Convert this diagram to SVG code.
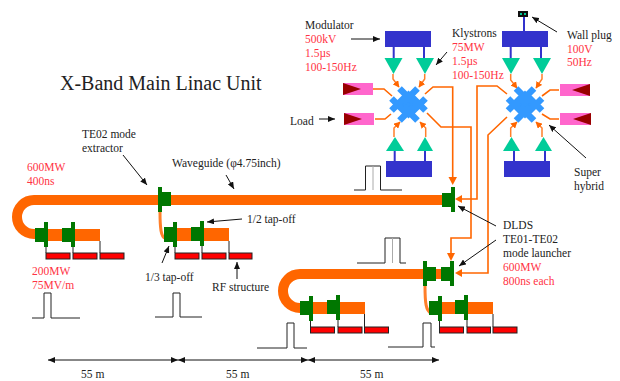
<svg xmlns="http://www.w3.org/2000/svg" width="620" height="381" viewBox="0 0 620 381">
<style>
text{font-family:"Liberation Serif","Times New Roman",serif;font-size:11.5px;fill:#222}
.r{fill:#ff3344}
.blue{fill:#3333cc}
.bl{stroke:#3333cc;stroke-width:2;fill:none}
.kly{fill:#00cc99}
.hyb{stroke:#3399ff;stroke-width:6.500;fill:none}
.hc{fill:#3399ff}
.o{stroke:#ff6600;fill:none;stroke-width:1.600}
.ol{stroke:#ff7f2a;fill:none;stroke-width:1.500;marker-end:url(#oa)}
.wg{stroke:#ff6600;fill:none;stroke-width:10}
.of{fill:#ff6600}
.g{fill:#007700}
.pk{fill:#ff66cc}
.dr{fill:#990000}
.rf{fill:#ff0000;stroke:#222;stroke-width:1}
.k{stroke:#222;stroke-width:1;fill:none}
.gr{stroke:#aaa;stroke-width:1;fill:none}
.a{stroke:#111;stroke-width:1;fill:none;marker-end:url(#ah)}
.d{stroke:#111;stroke-width:1;fill:none;marker-end:url(#ah);marker-start:url(#as)}
</style>
<defs>
<marker id="ah" markerWidth="8" markerHeight="6" refX="7" refY="3" orient="auto" markerUnits="userSpaceOnUse"><path d="M0,0L7,3L0,6z" fill="#111"/></marker>
<marker id="as" markerWidth="8" markerHeight="6" refX="0" refY="3" orient="auto" markerUnits="userSpaceOnUse"><path d="M7,0L0,3L7,6z" fill="#111"/></marker>
<marker id="oa" markerWidth="7" markerHeight="7" refX="6" refY="3.500" orient="auto" markerUnits="userSpaceOnUse"><path d="M0,0L6.500,3.500L0,7z" fill="#ff6600"/></marker>
</defs>
<text x="60" y="90" style="font-size:20px">X-Band Main Linac Unit</text>

<g id="waveguides">
<path class="wg" d="M160,200H34A17,17 0 0 0 34,234H40"/>
<rect class="of" x="40" y="229" width="60" height="12"/>
<rect class="of" x="160" y="195" width="282" height="10"/>
<path d="M160,212C160,228 161,237 165,238" stroke="#ff7f2a" stroke-width="3" fill="none"/>
<rect class="of" x="170" y="228" width="59" height="13"/>
<path class="wg" d="M423,274H300A17,17 0 0 0 300,308H305"/>
<rect class="of" x="305" y="302" width="60" height="12"/>
<rect class="of" x="430" y="269" width="15" height="10"/>
<path d="M425,286C425,303 426,311 431,313" stroke="#ff7f2a" stroke-width="3" fill="none"/>
<rect class="of" x="435" y="302" width="58" height="12"/>
</g>

<g id="connectors">
<path class="bl" d="M393.700,47V58M424,47V58M524,17V31M510.700,47V58M541,47V58M394.700,151V161M425,151V161M514,151V161M545,151V161"/>
<path class="ol" d="M393,74V79L399,87"/>
<path class="ol" d="M424.700,74V79L419,87"/>
<path class="ol" d="M510.700,74V80L517,88"/>
<path class="ol" d="M542,74V79L536,88"/>
<path class="ol" d="M394,137V128L400,122"/>
<path class="ol" d="M425.700,137V128L420,122"/>
<path class="ol" d="M510.700,137V128L517,122"/>
<path class="ol" d="M542,137V128L536,122"/>
<path class="o" d="M373,89H384L392,96M375,119H385L391,114M559,90H550L542,96M559,119H550L542,114"/>
<path class="o" d="M425,94L433,87H452.700V177"/>
<path class="of" d="M448.500,177H457L452.700,185z"/>
<path class="o" d="M427,113L441,127H471V238H451V253"/>
<path class="of" d="M447,253H455L451,261z"/>
<path class="o" d="M507,94L497,86H477V199H462"/>
<path class="of" d="M462,195V203L455,199z"/>
<path class="o" d="M507,117L488,135V273H462"/>
<path class="of" d="M462,269V277L455,273z"/>
</g>

<g id="modulator-tl"><rect class="blue" x="385" y="31" width="46" height="16"/></g>
<g id="modulator-bl"><rect class="blue" x="386" y="161" width="46" height="16"/></g>
<g id="modulator-tr"><rect class="blue" x="502" y="31" width="46" height="16"/></g>
<g id="modulator-br"><rect class="blue" x="504" y="161" width="46" height="16"/></g>
<g id="wall-plug"><rect x="518" y="11" width="10" height="6" fill="#111"/><rect x="520" y="13" width="2" height="2" fill="#00cc99"/><rect x="524" y="13" width="2" height="2" fill="#00cc99"/></g>
<g id="klystrons">
<path class="kly" d="M384.500,58H402.500L393.500,74z"/>
<path class="kly" d="M416,58H434L425,74z"/>
<path class="kly" d="M502,58H520L511,74z"/>
<path class="kly" d="M533,58H551L542,74z"/>
<path class="kly" d="M386,151H404L395,137z"/>
<path class="kly" d="M417,151H433L425,137z"/>
<path class="kly" d="M503,151H520L511.500,137z"/>
<path class="kly" d="M535,151H552L543.500,137z"/>
</g>
<g id="loads">
<rect class="pk" x="343" y="83" width="30" height="12"/><path class="dr" d="M343,83L361,89L343,95z"/>
<rect class="pk" x="344" y="113" width="30" height="12"/><path class="dr" d="M344,113L362,119L344,125z"/>
<rect class="pk" x="560" y="84" width="30" height="12"/><path class="dr" d="M590,84L572,90L590,96z"/>
<rect class="pk" x="560" y="113" width="31" height="12"/><path class="dr" d="M591,113L573,119L591,125z"/>
</g>
<g id="hybrid-left" transform="translate(408.500,104.500)">
<path class="hc" d="M0,-14L14,0L0,14L-14,0z"/>
<path class="hyb" d="M-9,-16L5,-2M-17,-6L-3,8M9,-16L-5,-2M17,-6L3,8M-9,16L5,2M-17,6L-3,-8M9,16L-5,2M17,6L3,-8"/>
</g>
<g id="hybrid-right" transform="translate(525,104.500)">
<path class="hc" d="M0,-14L14,0L0,14L-14,0z"/>
<path class="hyb" d="M-9,-16L5,-2M-17,-6L-3,8M9,-16L-5,-2M17,-6L3,8M-9,16L5,2M-17,6L-3,-8M9,16L-5,2M17,6L3,-8"/>
</g>

<g id="structures">
<path class="k" d="M46,247V253M73,247V253M100,241V253M175,247V253M202,246V253M229,241V253M310.500,321V327M338,320V327M364.500,314V327M439.500,321V327M467,320V327M493,314V327"/>
<rect class="rf" x="46" y="253" width="24" height="6"/><rect class="rf" x="73" y="253" width="24" height="6"/><rect class="rf" x="100" y="253" width="24" height="6"/>
<rect class="rf" x="175" y="253" width="24" height="6"/><rect class="rf" x="202" y="253" width="24" height="6"/><rect class="rf" x="229" y="253" width="23" height="6"/>
<rect class="rf" x="310.500" y="327" width="24" height="6"/><rect class="rf" x="338" y="327" width="24" height="6"/><rect class="rf" x="364.500" y="327" width="24" height="6"/>
<rect class="rf" x="439.500" y="327" width="24" height="6"/><rect class="rf" x="467" y="327" width="23.500" height="6"/><rect class="rf" x="493" y="327" width="24" height="6"/>
</g>
<g id="mode-parts">
<path class="g" d="M35,228H44V222H48V247H44V242H35z"/>
<path class="g" d="M62,228H71V222H75V247H71V242H62z"/>
<path class="g" d="M158,187H162V192H171V206H162V212H158z"/>
<path class="g" d="M164,227H173V222H177V247H173V242H164z"/>
<path class="g" d="M191,227H200V221H204V246H200V241H191z"/>
<path class="g" d="M442,193H451V187H455V212H451V207H442z"/>
<path class="g" d="M423,261H427V267H436V281H427V286H423z"/>
<path class="g" d="M441,267H450V261H454V286H450V281H441z"/>
<path class="g" d="M300,301H309V296H313V321H309V315H300z"/>
<path class="g" d="M327,300H336V295H340V320H336V314H327z"/>
<path class="g" d="M429,301H438V296H442V321H438V315H429z"/>
<path class="g" d="M455,300H464V295H468V320H464V314H455z"/>
</g>
<g id="pulses">
<path class="k" d="M354,190H365.500V166H380.500V190H402"/><path class="gr" d="M373,166V190"/>
<path class="k" d="M357,263H385V238H400V263H406"/><path class="gr" d="M392.500,238V263"/>
<path class="k" d="M32,318H44V293H51V318H80"/>
<path class="k" d="M155,317H173V293H180V317H202"/>
<path class="k" d="M257,348H287V323H294V348H307"/>
<path class="k" d="M388,347H423V323H431V347H435"/>
</g>
<g id="pointers">
<path class="a" d="M351,39H380"/>
<path class="a" d="M447,52L436,65"/>
<path class="a" d="M557,32L532,17"/>
<path class="a" d="M319,119H335"/>
<path class="a" d="M586,158L549,125"/>
<path class="a" d="M123,155L147,185"/>
<path class="a" d="M226,175L234,189"/>
<path class="a" d="M242,219L207,222"/>
<path class="a" d="M162,263L169,246"/>
<path class="a" d="M237,279V262"/>
<path class="a" d="M496,226L458,206"/>
<path class="a" d="M496,240L459,266"/>
<path class="d" d="M48,360H178"/>
<path class="d" d="M178,360H308"/>
<path class="d" d="M308,360H439"/>
</g>
<g id="labels">
<text x="305" y="29">Modulator</text>
<text class="r" x="305" y="43">500kV</text>
<text class="r" x="305" y="57">1.5µs</text>
<text class="r" x="305" y="71">100-150Hz</text>
<text x="452" y="37">Klystrons</text>
<text class="r" x="452" y="51">75MW</text>
<text class="r" x="452" y="65">1.5µs</text>
<text class="r" x="452" y="79">100-150Hz</text>
<text x="567" y="39">Wall plug</text>
<text class="r" x="567" y="53">100V</text>
<text class="r" x="567" y="66">50Hz</text>
<text x="290" y="125">Load</text>
<text x="574" y="176">Super</text>
<text x="574" y="190">hybrid</text>
<text x="82" y="138">TE02 mode</text>
<text x="82" y="152">extractor</text>
<text class="r" x="27" y="171">600MW</text>
<text class="r" x="27" y="185">400ns</text>
<text x="172" y="167">Waveguide (φ4.75inch)</text>
<text x="247" y="223">1/2 tap-off</text>
<text class="r" x="32" y="275">200MW</text>
<text class="r" x="32" y="289">75MV/m</text>
<text x="145" y="281">1/3 tap-off</text>
<text x="212" y="291">RF structure</text>
<text x="81" y="378">55 m</text>
<text x="226" y="378">55 m</text>
<text x="360" y="378">55 m</text>
<text x="503" y="229">DLDS</text>
<text x="503" y="243">TE01-TE02</text>
<text x="503" y="257">mode launcher</text>
<text class="r" x="503" y="271">600MW</text>
<text class="r" x="503" y="285">800ns each</text>
</g>
</svg>
